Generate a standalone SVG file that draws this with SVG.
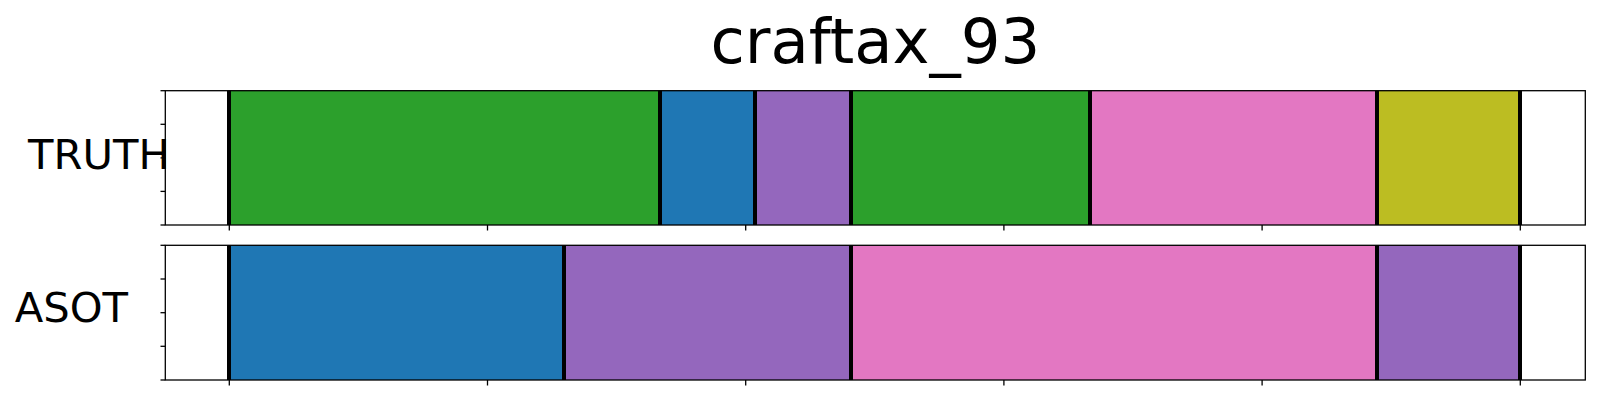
<svg xmlns="http://www.w3.org/2000/svg" width="1600" height="400" viewBox="0 0 1600 400">
<style>
.lbl{font-family:"DejaVu Sans",sans-serif;fill:#000}
.spine{fill:none;stroke:#000;stroke-width:1.3}
.tick{stroke:#000;stroke-width:1.3}
.bnd{stroke:#000;stroke-width:4}
.g{fill:#2ca02c}.b{fill:#1f77b4}.p{fill:#9467bd}.k{fill:#e377c2}.o{fill:#bcbd22}
</style>
<rect width="1600" height="400" fill="#fff"/>
<text id="title" class="lbl" x="875.3" y="63.3" font-size="62.5" text-anchor="middle">craftax_93</text>
<g id="truth">
<rect class="g" x="229" y="90.7" width="431" height="134.3"/>
<rect class="b" x="660" y="90.7" width="95" height="134.3"/>
<rect class="p" x="755" y="90.7" width="96" height="134.3"/>
<rect class="g" x="851" y="90.7" width="239" height="134.3"/>
<rect class="k" x="1090" y="90.7" width="287" height="134.3"/>
<rect class="o" x="1377" y="90.7" width="143" height="134.3"/>
<g class="bnd">
<line x1="229" y1="90.7" x2="229" y2="225"/>
<line x1="660" y1="90.7" x2="660" y2="225"/>
<line x1="755" y1="90.7" x2="755" y2="225"/>
<line x1="851" y1="90.7" x2="851" y2="225"/>
<line x1="1090" y1="90.7" x2="1090" y2="225"/>
<line x1="1377" y1="90.7" x2="1377" y2="225"/>
<line x1="1520" y1="90.7" x2="1520" y2="225"/>
</g>
<rect class="spine" x="165.3" y="90.7" width="1420" height="134.3"/>
<g class="tick">
<line x1="160.5" y1="90.7" x2="165.3" y2="90.7"/>
<line x1="160.5" y1="124.3" x2="165.3" y2="124.3"/>
<line x1="160.5" y1="157.9" x2="165.3" y2="157.9"/>
<line x1="160.5" y1="191.4" x2="165.3" y2="191.4"/>
<line x1="160.5" y1="225" x2="165.3" y2="225"/>
<line x1="229.3" y1="225" x2="229.3" y2="230.5"/>
<line x1="487.5" y1="225" x2="487.5" y2="230.5"/>
<line x1="745.7" y1="225" x2="745.7" y2="230.5"/>
<line x1="1003.9" y1="225" x2="1003.9" y2="230.5"/>
<line x1="1262.1" y1="225" x2="1262.1" y2="230.5"/>
<line x1="1520.3" y1="225" x2="1520.3" y2="230.5"/>
</g>
<text class="lbl" x="28" y="169" font-size="41.7">TRUTH</text>
</g>
<g id="asot">
<rect class="b" x="229" y="245.3" width="335" height="134.7"/>
<rect class="p" x="564" y="245.3" width="287" height="134.7"/>
<rect class="k" x="851" y="245.3" width="526" height="134.7"/>
<rect class="p" x="1377" y="245.3" width="143" height="134.7"/>
<g class="bnd">
<line x1="229" y1="245.3" x2="229" y2="380"/>
<line x1="564" y1="245.3" x2="564" y2="380"/>
<line x1="851" y1="245.3" x2="851" y2="380"/>
<line x1="1377" y1="245.3" x2="1377" y2="380"/>
<line x1="1520" y1="245.3" x2="1520" y2="380"/>
</g>
<rect class="spine" x="165.3" y="245.3" width="1420" height="134.7"/>
<g class="tick">
<line x1="160.5" y1="245.3" x2="165.3" y2="245.3"/>
<line x1="160.5" y1="279" x2="165.3" y2="279"/>
<line x1="160.5" y1="312.7" x2="165.3" y2="312.7"/>
<line x1="160.5" y1="346.3" x2="165.3" y2="346.3"/>
<line x1="160.5" y1="380" x2="165.3" y2="380"/>
<line x1="229.3" y1="380" x2="229.3" y2="385.5"/>
<line x1="487.5" y1="380" x2="487.5" y2="385.5"/>
<line x1="745.7" y1="380" x2="745.7" y2="385.5"/>
<line x1="1003.9" y1="380" x2="1003.9" y2="385.5"/>
<line x1="1262.1" y1="380" x2="1262.1" y2="385.5"/>
<line x1="1520.3" y1="380" x2="1520.3" y2="385.5"/>
</g>
<text class="lbl" x="14.7" y="322.3" font-size="41.7">ASOT</text>
</g>
<g id="connectors"></g>
</svg>
